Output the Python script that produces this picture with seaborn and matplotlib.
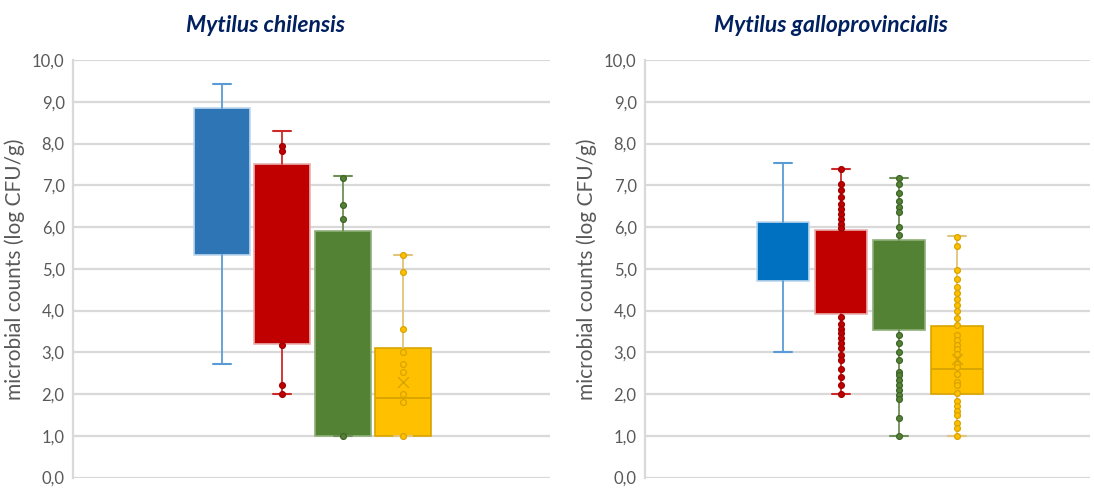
import matplotlib
matplotlib.use("Agg")
import matplotlib.pyplot as plt
import seaborn as sns
import pandas as pd

# Four sample series per species (box colours: blue, red, green, yellow)
series = ["S1", "S2", "S3", "S4"]

# Mytilus chilensis box statistics (log CFU/g)
chil_whislo = [2.71, 2.01, 1.00, 1.00]
chil_q1 = [5.32, 3.19, 1.00, 1.00]
chil_med = [7.00, 5.30, 3.40, 1.91]
chil_q3 = [8.86, 7.50, 5.90, 3.11]
chil_whishi = [9.43, 8.31, 7.22, 5.34]
chil_mean_s4 = 2.29

# Mytilus chilensis individual points
chil_pts_s2 = [7.95, 7.82, 3.17, 2.21, 2.01]
chil_pts_s3 = [7.18, 6.52, 6.18, 1.00]
chil_pts_s4 = [5.34, 4.92, 3.55, 3.01, 2.71, 2.53, 2.01, 1.81, 1.00]

# Mytilus galloprovincialis box statistics (log CFU/g)
gallo_whislo = [3.01, 2.01, 1.00, 1.00]
gallo_q1 = [4.70, 3.91, 3.53, 2.01]
gallo_med = [5.40, 4.90, 4.60, 2.59]
gallo_q3 = [6.12, 5.94, 5.68, 3.63]
gallo_whishi = [7.53, 7.38, 7.18, 5.78]
gallo_mean_s4 = 2.85

# Mytilus galloprovincialis individual points
gallo_pts_s2 = [7.38, 7.02, 6.89, 6.72, 6.54, 6.44, 6.32, 6.20, 6.08, 5.98,
                3.85, 3.67, 3.55, 3.45, 3.33, 3.21, 3.09, 2.93, 2.81, 2.61,
                2.40, 2.21, 2.01]
gallo_pts_s3 = [7.18, 7.04, 6.81, 6.62, 6.48, 6.36, 6.00, 5.80,
                3.41, 3.21, 3.01, 2.81, 2.53, 2.45, 2.33, 2.21, 2.09, 1.97,
                1.89, 1.42, 1.00]
gallo_pts_s4 = [5.77, 5.55, 4.96, 4.75, 4.57, 4.41, 4.27, 4.13, 3.98, 3.81,
                3.65, 3.41, 3.29, 3.17, 3.07, 2.97, 2.73, 2.65, 2.49, 2.29,
                2.21, 2.03, 1.84, 1.71, 1.60, 1.50, 1.30, 1.18, 1.00]

titles = ["Mytilus chilensis", "Mytilus galloprovincialis"]
ylabel = "microbial counts (log CFU/g)"
yticks = [0, 1, 2, 3, 4, 5, 6, 7, 8, 9, 10]

fills_left = ["#2E75B6", "#C00000", "#548235", "#FFC000"]
fills_right = ["#0070C0", "#C00000", "#548235", "#FFC000"]
edges = ["#BDD7EE", "#E8B0B0", "#8FAF78", "#D9A400"]
whisker_cols = ["#5B9BD5", "#CC2A2A", "#6F8F58", "#E2C47A"]
point_edges = ["#1F4E79", "#A00000", "#3F6428", "#D9A400"]
# only the yellow series shows its median line
median_widths = [0, 0, 0, 1.3]

sns.set_theme(style="white")
plt.rcParams["font.family"] = ["Lato", "DejaVu Sans"]

fig = plt.figure(figsize=(10.94, 4.93), dpi=100)
ax_l = fig.add_axes([73 / 1094, 15.5 / 493, 477 / 1094, 417.5 / 493])
ax_r = fig.add_axes([645 / 1094, 15.5 / 493, 445 / 1094, 417.5 / 493])


def draw_panel(ax, fills, whislo, q1, med, q3, whishi, mean_s4, pts, box_w, xlim):
    for i in range(4):
        st = dict(whislo=whislo[i], q1=q1[i], med=med[i], q3=q3[i],
                  whishi=whishi[i], fliers=[])
        ax.bxp([st], positions=[i], widths=box_w, capwidths=0.3,
               patch_artist=True, showfliers=False, manage_ticks=False,
               boxprops=dict(facecolor=fills[i], edgecolor=edges[i], linewidth=1.2),
               whiskerprops=dict(color=whisker_cols[i], linewidth=1.3),
               capprops=dict(color=whisker_cols[i], linewidth=1.5),
               medianprops=dict(color=edges[i], linewidth=median_widths[i]),
               zorder=2)
    # individual measurements
    for i, vals in pts.items():
        df = pd.DataFrame({"pos": [float(i)] * len(vals), "value": vals})
        sns.stripplot(data=df, x="pos", y="value", native_scale=True, jitter=False,
                      color=fills[i], edgecolor=point_edges[i], linewidth=0.9,
                      size=4.2, ax=ax, zorder=3)
    # mean marker of the fourth series
    ax.scatter([3], [mean_s4], marker="x", s=60, color=point_edges[3],
               linewidths=1.0, zorder=4)
    ax.set_xlim(*xlim)
    ax.set_ylim(0, 10)
    ax.set_yticks(yticks)
    ax.set_yticklabels([f"{v:.1f}".replace(".", ",") for v in yticks],
                       color="#595959", fontsize=12)
    ax.set_xticks([])
    ax.set_xlabel("")
    ax.set_ylabel(ylabel, color="#595959", fontsize=15)
    ax.tick_params(axis="y", length=0, pad=6)
    for v in yticks:
        ax.axhline(v, color="#D9D9D9", linewidth=1.6, zorder=0)
    for s in ["top", "right", "bottom"]:
        ax.spines[s].set_visible(False)
    ax.spines["left"].set_color("#D9D9D9")
    ax.spines["left"].set_linewidth(1.6)


draw_panel(ax_l, fills_left, chil_whislo, chil_q1, chil_med, chil_q3, chil_whishi,
           chil_mean_s4, {1: chil_pts_s2, 2: chil_pts_s3, 3: chil_pts_s4},
           0.93, (-2.47, 5.44))
draw_panel(ax_r, fills_right, gallo_whislo, gallo_q1, gallo_med, gallo_q3, gallo_whishi,
           gallo_mean_s4, {1: gallo_pts_s2, 2: gallo_pts_s3, 3: gallo_pts_s4},
           0.90, (-2.38, 5.29))

ax_l.yaxis.set_label_coords(-0.10, 0.5)
ax_r.yaxis.set_label_coords(-0.108, 0.5)

fig.text(266 / 1094, 1 - 25 / 493, titles[0], ha="center", va="center",
         fontsize=16.5, fontweight="bold", fontstyle="italic", color="#002060")
fig.text(831 / 1094, 1 - 25 / 493, titles[1], ha="center", va="center",
         fontsize=16.5, fontweight="bold", fontstyle="italic", color="#002060")

fig.savefig("out.png", dpi=100)
